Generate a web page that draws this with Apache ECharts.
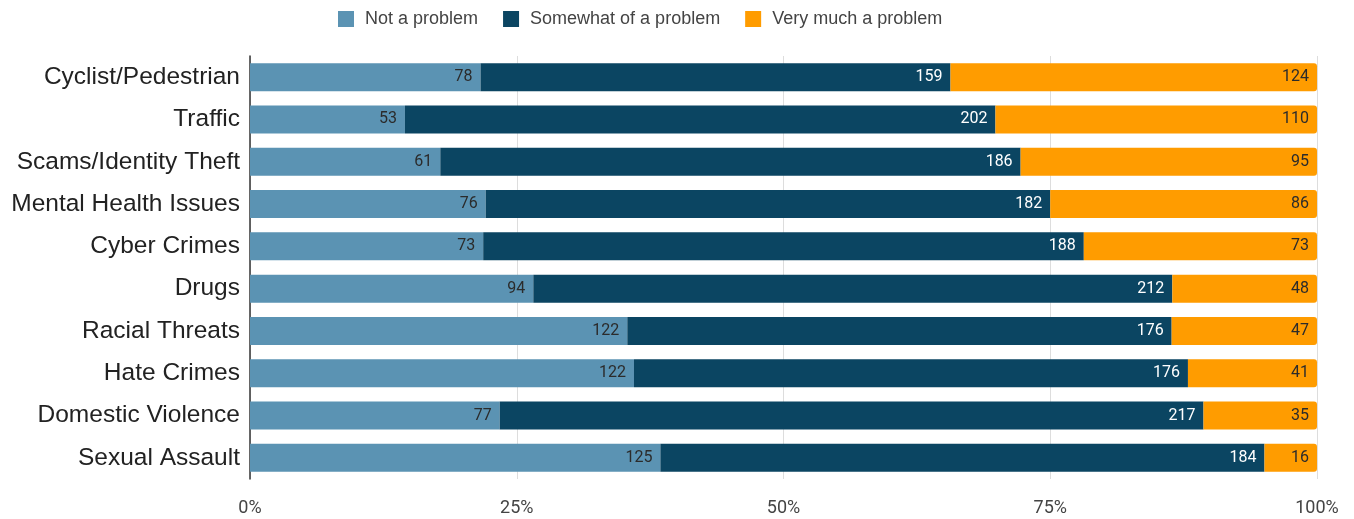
<!DOCTYPE html>
<html>
<head>
<meta charset="utf-8">
<script src="https://cdn.jsdelivr.net/npm/echarts@6/dist/echarts.min.js"></script>
<style>
  html, body { margin: 0; padding: 0; background: #fff; }
  #chart { width: 1354px; height: 519px; }
</style>
</head>
<body>
<div id="chart"></div>
<script>
const categories = [
  'Cyclist/Pedestrian', 'Traffic', 'Scams/Identity Theft', 'Mental Health Issues',
  'Cyber Crimes', 'Drugs', 'Racial Threats', 'Hate Crimes', 'Domestic Violence', 'Sexual Assault'
];
const notAProblem = [78, 53, 61, 76, 73, 94, 122, 122, 77, 125];
const somewhatAProblem = [159, 202, 186, 182, 188, 212, 176, 176, 217, 184];
const veryMuchAProblem = [124, 110, 95, 86, 73, 48, 47, 41, 35, 16];
const seriesNames = ['Not a problem', 'Somewhat of a problem', 'Very much a problem'];
const tickLabels = ['0%', '25%', '50%', '75%', '100%'];

// Each row is shown as shares of its own total (100% stacked bars).
const groups = [notAProblem, somewhatAProblem, veryMuchAProblem];
const totals = categories.map((_, i) => groups.reduce((s, g) => s + g[i], 0));
const colors = ['#5b93b3', '#0b4562', '#ff9c00'];
const labelColors = ['#2b2b2b', '#ffffff', '#2b2b2b'];

const series = groups.map((vals, k) => ({
  name: seriesNames[k],
  type: 'bar',
  stack: 'share',
  barWidth: 28,
  itemStyle: {
    color: colors[k],
    borderRadius: k === groups.length - 1 ? [0, 3, 3, 0] : 0
  },
  label: {
    show: true,
    position: 'insideRight',
    distance: 8,
    color: labelColors[k],
    fontSize: 16,
    fontFamily: 'Roboto, sans-serif',
    formatter: p => vals[p.dataIndex]
  },
  data: vals.map((v, i) => v / totals[i] * 100)
}));

const chart = echarts.init(document.getElementById('chart'));
chart.setOption({
  animation: false,
  color: colors,
  legend: {
    top: 5,
    left: 333,
    itemWidth: 16,
    itemHeight: 16,
    itemGap: 25,
    icon: 'rect',
    textStyle: {
      color: '#444',
      fontSize: 18,
      fontFamily: 'Arial, sans-serif',
      padding: [0, 0, 0, 6]
    },
    data: seriesNames
  },
  grid: { left: 250, right: 37, top: 56, bottom: 40 },
  xAxis: {
    type: 'value',
    min: 0,
    max: 100,
    interval: 25,
    axisLine: { show: false },
    axisTick: { show: false },
    splitLine: { lineStyle: { color: '#dddddd' } },
    axisLabel: {
      color: '#444',
      fontSize: 18,
      fontFamily: 'Roboto, sans-serif',
      margin: 20,
      formatter: v => tickLabels[v / 25]
    }
  },
  yAxis: {
    type: 'category',
    inverse: true,
    data: categories,
    axisLine: { lineStyle: { color: '#333', width: 1.5 } },
    axisTick: { show: false },
    axisLabel: {
      color: '#222',
      fontSize: 24.5,
      fontFamily: 'Arial, sans-serif',
      margin: 10
    }
  },
  series: series
});
</script>
</body>
</html>
